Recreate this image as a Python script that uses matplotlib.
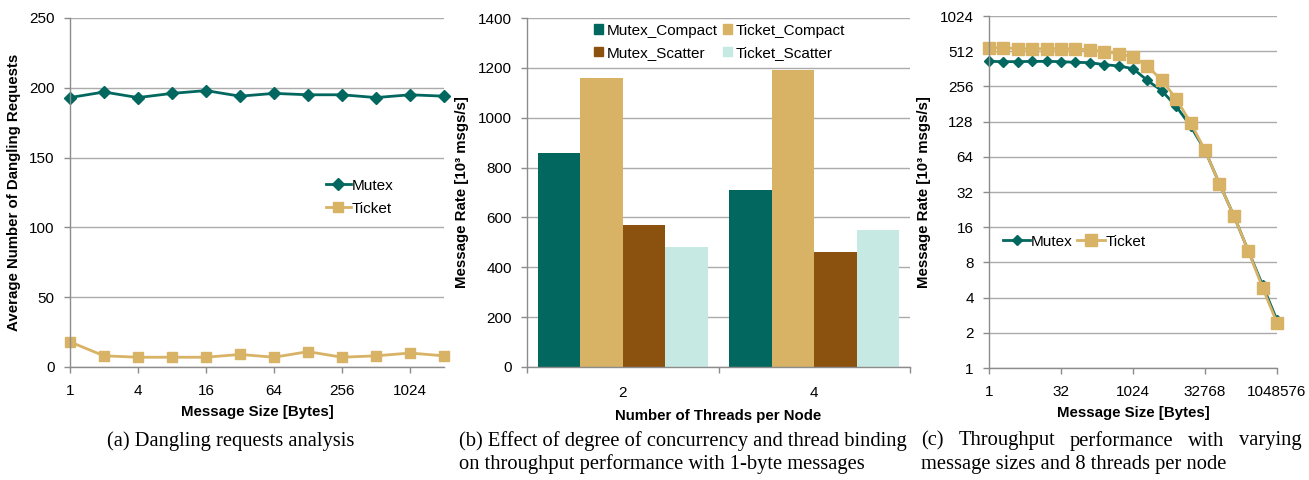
import matplotlib
matplotlib.use("Agg")
import matplotlib.pyplot as plt
import numpy as np
from matplotlib.patches import Patch

plt.rcParams['font.family'] = ['Liberation Sans', 'DejaVu Sans']

TEAL = '#02675F'
TAN = '#D8B265'
BROWN = '#8B520F'
LIGHT = '#C6E9E3'
GRID = '#ABABAB'
SPINE = '#8C8C8C'

# ---- (a) data ----
a_sizes = ['1', '2', '4', '8', '16', '32', '64', '128', '256', '512', '1024', '2048']
a_mutex = [193, 197, 193, 196, 198, 194, 196, 195, 195, 193, 195, 194]
a_ticket = [18, 8, 7, 7, 7, 9, 7, 11, 7, 8, 10, 8]

# ---- (b) data ----
b_threads = ['2', '4']
b_series = ['Mutex_Compact', 'Ticket_Compact', 'Mutex_Scatter', 'Ticket_Scatter']
b_mutex_compact = [860, 710]
b_ticket_compact = [1160, 1190]
b_mutex_scatter = [570, 460]
b_ticket_scatter = [480, 550]

# ---- (c) data ----
c_sizes = [2 ** k for k in range(21)]
c_mutex = [419, 417, 417, 419, 419, 417, 411, 409, 393, 383, 363,
           288, 235, 173, 117, 72.7, 37.7, 20.1, 10.1, 5.1, 2.56]
c_ticket = [549, 549, 538, 535, 538, 538, 535, 528, 507, 488, 457,
            383, 288, 201, 125, 72.7, 37.7, 20.1, 10.1, 4.86, 2.43]
c_xticks = [1, 32, 1024, 32768, 1048576]
c_yticks = [1, 2, 4, 8, 16, 32, 64, 128, 256, 512, 1024]

W, H = 1309, 480
fig = plt.figure(figsize=(W / 100, H / 100), dpi=100)

def ax_at(l, r, t, b):
    return fig.add_axes([l / W, 1 - b / H, (r - l) / W, (b - t) / H])

TICK_FS = 11
LAB_FS = 10.8

def style(ax):
    for s in ['top', 'right']:
        ax.spines[s].set_visible(False)
    for s in ['left', 'bottom']:
        ax.spines[s].set_color(SPINE)
        ax.spines[s].set_linewidth(1.0)
    ax.yaxis.grid(True, color=GRID, linewidth=1.0)
    ax.set_axisbelow(True)
    ax.tick_params(axis='both', colors=SPINE, labelcolor='black',
                   labelsize=TICK_FS, length=4, width=1.0)
    ax.tick_params(axis='y', pad=7)
    ax.tick_params(axis='x', pad=8)

# ---- (a) ----
axa = ax_at(70, 444, 18, 367)
style(axa)
xa = np.arange(len(a_sizes))
axa.plot(xa, a_mutex, color=TEAL, lw=2.0, marker='D', ms=6, label='Mutex', clip_on=False)
axa.plot(xa, a_ticket, color=TAN, lw=2.0, marker='s', ms=7, label='Ticket', clip_on=False)
axa.set_xlim(0, len(a_sizes) - 1)
axa.set_ylim(0, 250)
axa.set_yticks(range(0, 251, 50))
axa.set_xticks(xa[::2])
axa.set_xticklabels(a_sizes[::2])
axa.set_xlabel('Message Size [Bytes]', fontsize=LAB_FS, fontweight='bold', labelpad=5)
axa.set_ylabel('Average Number of Dangling Requests', fontsize=LAB_FS, fontweight='bold', labelpad=6)
axa.legend(loc='upper left', bbox_to_anchor=(0.685, 0.54), frameon=False,
           fontsize=TICK_FS, handlelength=1.6, handletextpad=0.05, labelspacing=0.6,
           borderaxespad=0, borderpad=0)

# ---- (b) ----
axb = ax_at(527, 910, 18, 367)
style(axb)
xb = np.arange(len(b_threads))
bw = 0.89 / 4
b_vals = [b_mutex_compact, b_ticket_compact, b_mutex_scatter, b_ticket_scatter]
b_cols = [TEAL, TAN, BROWN, LIGHT]
for i, (vals, col, name) in enumerate(zip(b_vals, b_cols, b_series)):
    axb.bar(xb + (i - 1.5) * bw, vals, width=bw, color=col, label=name)
axb.set_xlim(-0.5, 1.5)
axb.set_ylim(0, 1400)
axb.set_yticks(range(0, 1401, 200))
axb.set_xticks(xb)
axb.set_xticklabels(b_threads)
axb.set_xticks([-0.5, 0.5, 1.5], minor=True)
axb.tick_params(axis='x', which='major', length=0, pad=14)
axb.tick_params(axis='x', which='minor', length=4, color=SPINE, width=1.0)
axb.set_xlabel('Number of Threads per Node', fontsize=LAB_FS, fontweight='bold', labelpad=6)
axb.set_ylabel('Message Rate [10³ msgs/s]', fontsize=LAB_FS, fontweight='bold', labelpad=6)
order = [0, 2, 1, 3]
handles = [Patch(color=b_cols[i]) for i in order]
labels = [b_series[i] for i in order]
leg = axb.legend(handles, labels, loc='upper left', bbox_to_anchor=(0.165, 0.995), ncol=2,
                 frameon=True, fontsize=TICK_FS, handlelength=0.6, handleheight=0.6,
                 handletextpad=0.25, columnspacing=0.3, labelspacing=0.55,
                 borderaxespad=0, borderpad=0.25)
leg.get_frame().set_facecolor('white')
leg.get_frame().set_edgecolor('none')
leg.get_frame().set_alpha(1)

# ---- (c) ----
axc = ax_at(989, 1277, 16, 368)
style(axc)
axc.set_xscale('log', base=2)
axc.set_yscale('log', base=2)
axc.plot(c_sizes, c_mutex, color=TEAL, lw=2.0, marker='D', ms=5.5, label='Mutex', clip_on=False)
axc.plot(c_sizes, c_ticket, color=TAN, lw=2.0, marker='s', ms=8.5, label='Ticket', clip_on=False)
axc.set_xlim(1, 1048576)
axc.set_ylim(1, 1024)
axc.set_xticks(c_xticks)
axc.set_xticklabels([str(v) for v in c_xticks])
axc.set_yticks(c_yticks)
axc.set_yticklabels([str(v) for v in c_yticks])
axc.minorticks_off()
axc.set_xlabel('Message Size [Bytes]', fontsize=LAB_FS, fontweight='bold', labelpad=5)
axc.set_ylabel('Message Rate [10³ msgs/s]', fontsize=LAB_FS, fontweight='bold', labelpad=6)
legc = axc.legend(loc='upper left', bbox_to_anchor=(0.035, 0.39), ncol=2, frameon=True,
                  fontsize=TICK_FS, handlelength=1.8, handletextpad=0.05, columnspacing=0.3,
                  borderaxespad=0, borderpad=0.25)
legc.get_frame().set_facecolor('white')
legc.get_frame().set_edgecolor('none')
legc.get_frame().set_alpha(1)

# ---- captions ----
CAP_FS = 14.8
serif = ['Liberation Serif', 'DejaVu Serif']
renderer = fig.canvas.get_renderer()

def justify(x0, x1, y, line):
    words = line.split()
    texts = [fig.text(0, 1 - y / H, w, ha='left', va='center', fontsize=CAP_FS, family=serif)
             for w in words]
    widths = [t.get_window_extent(renderer).width for t in texts]
    gap = (x1 - x0 - sum(widths)) / (len(words) - 1)
    x = x0
    for t, w in zip(texts, widths):
        t.set_x(x / W)
        x += w + gap

def plain(x, y, line, ha='left'):
    fig.text(x / W, 1 - y / H, line, ha=ha, va='center', fontsize=CAP_FS, family=serif)

plain(231, 441, '(a) Dangling requests analysis', ha='center')
plain(459, 441, '(b) Effect of degree of concurrency and thread binding')
plain(459, 464, 'on throughput performance with 1-byte messages')
justify(921, 1302, 441, '(c) Throughput performance with varying')
plain(921, 464, 'message sizes and 8 threads per node')

fig.savefig('out.png', dpi=100)
